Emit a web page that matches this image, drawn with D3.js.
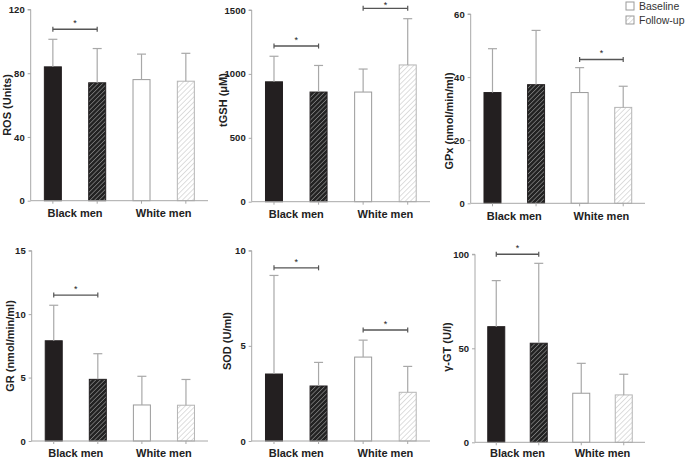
<!DOCTYPE html>
<html><head><meta charset="utf-8">
<script src="https://cdn.jsdelivr.net/npm/d3@7"></script>
<style>
html,body{margin:0;padding:0;background:#fff;}
svg{display:block;font-family:"Liberation Sans",Arial,sans-serif;}
</style></head>
<body>
<svg id="c" width="685" height="459"></svg>
<script>
// ---- data ----
const groups = ["Black men", "White men"];
const seriesNames = ["Baseline", "Follow-up"];
// bar order: Black baseline, Black follow-up, White baseline, White follow-up
const rosMean = [84, 74, 76, 75];
const rosSD = [101.3, 95.5, 92, 92.5];
const tgshMean = [938, 858, 858, 1070];
const tgshSD = [1138, 1066, 1038, 1432];
const gpxMean = [35.1, 37.6, 35.1, 30.4];
const gpxSD = [49, 54.8, 43, 37.1];
const grMean = [7.9, 4.86, 2.84, 2.82];
const grSD = [10.7, 6.88, 5.1, 4.85];
const sodMean = [3.52, 2.89, 4.41, 2.56];
const sodSD = [8.7, 4.13, 5.3, 3.92];
const ggtMean = [61.5, 52.7, 26.1, 25.2];
const ggtSD = [86, 95.2, 42, 36.2];
const rosTicks = [0, 40, 80, 120];
const tgshTicks = [0, 500, 1000, 1500];
const gpxTicks = [0, 20, 40, 60];
const grTicks = [0, 5, 10, 15];
const sodTicks = [0, 5, 10];
const ggtTicks = [0, 50, 100];
// significance brackets: [barA, barB, level]
const rosSig = [[0, 1, 107.6]];
const tgshSig = [[0, 1, 1218], [2, 3, 1513]];
const gpxSig = [[2, 3, 45.6]];
const grSig = [[0, 1, 11.5]];
const sodSig = [[0, 1, 9.1], [2, 3, 5.83]];
const ggtSig = [[0, 1, 100]];

const panels = [
  {label:"ROS (Units)", mean:rosMean, sd:rosSD, ticks:rosTicks, sig:rosSig,
   L:30.7, T:9.5, B:200.7, R:208, lx:11, ly:105, cy:217},
  {label:"tGSH  (\u03bcM)", mean:tgshMean, sd:tgshSD, ticks:tgshTicks, sig:tgshSig,
   L:251.7, T:10, B:201.7, R:430, lx:227, ly:100, cy:218},
  {label:"GPx (nmol/min/ml)", mean:gpxMean, sd:gpxSD, ticks:gpxTicks, sig:gpxSig,
   L:470.7, T:14, B:203.3, R:645, lx:453, ly:121, cy:219.5},
  {label:"GR (nmol/min/ml)", mean:grMean, sd:grSD, ticks:grTicks, sig:grSig,
   L:31.7, T:250.7, B:441, R:208, lx:14, ly:346, cy:456.5},
  {label:"SOD (U/ml)", mean:sodMean, sd:sodSD, ticks:sodTicks, sig:sodSig,
   L:251.7, T:250.7, B:441, R:430, lx:231, ly:341, cy:456.5},
  {label:"\u03b3-GT (U/l)", mean:ggtMean, sd:ggtSD, ticks:ggtTicks, sig:ggtSig,
   L:475, T:254.3, B:442.3, R:645, lx:451, ly:347, cy:456.5}
];

const svg = d3.select("#c");
const defs = svg.append("defs");
function hatch(id, bg, fg, gap, sw){
  const p = defs.append("pattern").attr("id", id).attr("patternUnits","userSpaceOnUse")
    .attr("width", gap).attr("height", gap).attr("patternTransform","rotate(45)");
  p.append("rect").attr("width", gap).attr("height", gap).attr("fill", bg);
  p.append("line").attr("x1",0).attr("y1",0).attr("x2",0).attr("y2",gap)
    .attr("stroke", fg).attr("stroke-width", sw);
}
hatch("hDark", "#222", "#9a9a9a", 3.2, 1.2);
hatch("hLight", "#fff", "#bdbdbd", 3.6, 1);

const fills = ["#231f20", "url(#hDark)", "#fff", "url(#hLight)"];
const strokes = ["#231f20", "#231f20", "#9a9a9a", "#b5b5b5"];
const axisCol = "#a8a8a8";
const errCol = "#a8a8a8";
const barW = 18;

panels.forEach(p => {
  const g = svg.append("g");
  const ymax = p.ticks[p.ticks.length-1];
  const y = d3.scaleLinear().domain([0, ymax]).range([p.B, p.T]);
  const x = d3.scalePoint().domain(d3.range(4)).range([p.L, p.R]).padding(0.5);

  // bars
  g.selectAll("rect.bar").data(p.mean).join("rect")
    .attr("x", (d,i) => x(i) - barW/2 + 0.5)
    .attr("y", d => y(d))
    .attr("width", barW - 1)
    .attr("height", d => p.B - y(d))
    .attr("fill", (d,i) => fills[i])
    .attr("stroke", (d,i) => strokes[i])
    .attr("stroke-width", 1);

  // error bars (upper only)
  p.sd.forEach((v,i) => {
    g.append("line").attr("x1", x(i)).attr("x2", x(i))
      .attr("y1", y(p.mean[i])).attr("y2", y(v))
      .attr("stroke", errCol).attr("stroke-width", 1.2);
    g.append("line").attr("x1", x(i)-4.5).attr("x2", x(i)+4.5)
      .attr("y1", y(v)).attr("y2", y(v))
      .attr("stroke", errCol).attr("stroke-width", 1.2);
  });

  // y axis
  const ya = d3.axisLeft(y).tickValues(p.ticks).tickSize(3).tickPadding(3).tickFormat(d3.format("d"));
  const yg = g.append("g").attr("transform", `translate(${p.L},0)`).call(ya);
  yg.select(".domain").attr("stroke", axisCol).attr("d", `M-3,${p.T}H0V${p.B}`);
  yg.selectAll(".tick line").attr("stroke", axisCol);
  yg.selectAll(".tick text").attr("fill", "#222").attr("font-size", 9.5)
    .attr("font-weight", "bold").attr("font-family", "Liberation Sans, Arial, sans-serif");

  // x axis line + ticks
  g.append("line").attr("x1", p.L).attr("x2", p.R).attr("y1", p.B).attr("y2", p.B)
    .attr("stroke", axisCol).attr("stroke-width", 1);
  g.selectAll("line.xt").data(d3.range(4)).join("line")
    .attr("x1", i => x(i)).attr("x2", i => x(i))
    .attr("y1", p.B).attr("y2", p.B + 3)
    .attr("stroke", axisCol);

  // category labels
  groups.forEach((lab, k) => {
    g.append("text").attr("x", (x(2*k) + x(2*k+1))/2).attr("y", p.cy)
      .attr("text-anchor", "middle").attr("font-size", 11).attr("font-weight", "bold")
      .attr("fill", "#222").text(lab);
  });

  // y label
  g.append("text").attr("transform", `translate(${p.lx},${p.ly}) rotate(-90)`)
    .attr("text-anchor", "middle").attr("font-size", 11).attr("font-weight", "bold")
    .attr("fill", "#222").text(p.label);

  // significance brackets
  p.sig.forEach(([a, b, lv]) => {
    const yy = y(lv), xa = x(a), xb = x(b);
    g.append("line").attr("x1", xa).attr("x2", xb).attr("y1", yy).attr("y2", yy)
      .attr("stroke", "#555").attr("stroke-width", 1.4);
    [xa, xb].forEach(xx => g.append("line").attr("x1", xx).attr("x2", xx)
      .attr("y1", yy - 2.5).attr("y2", yy + 2.5).attr("stroke", "#555").attr("stroke-width", 1.2));
    g.append("text").attr("x", (xa+xb)/2).attr("y", Math.max(yy - 3, 8))
      .attr("text-anchor", "middle").attr("font-size", 9).attr("fill", "#222").text("*");
  });
});

// legend
const lg = svg.append("g");
seriesNames.forEach((s, i) => {
  lg.append("rect").attr("x", 626).attr("y", 2 + i*14).attr("width", 8).attr("height", 8)
    .attr("fill", i === 0 ? "#fff" : "url(#hLight)").attr("stroke", "#9a9a9a").attr("stroke-width", 1);
  lg.append("text").attr("x", 639).attr("y", 10 + i*14).attr("font-size", 10.5)
    .attr("fill", "#333").text(s);
});
</script>
</body></html>
